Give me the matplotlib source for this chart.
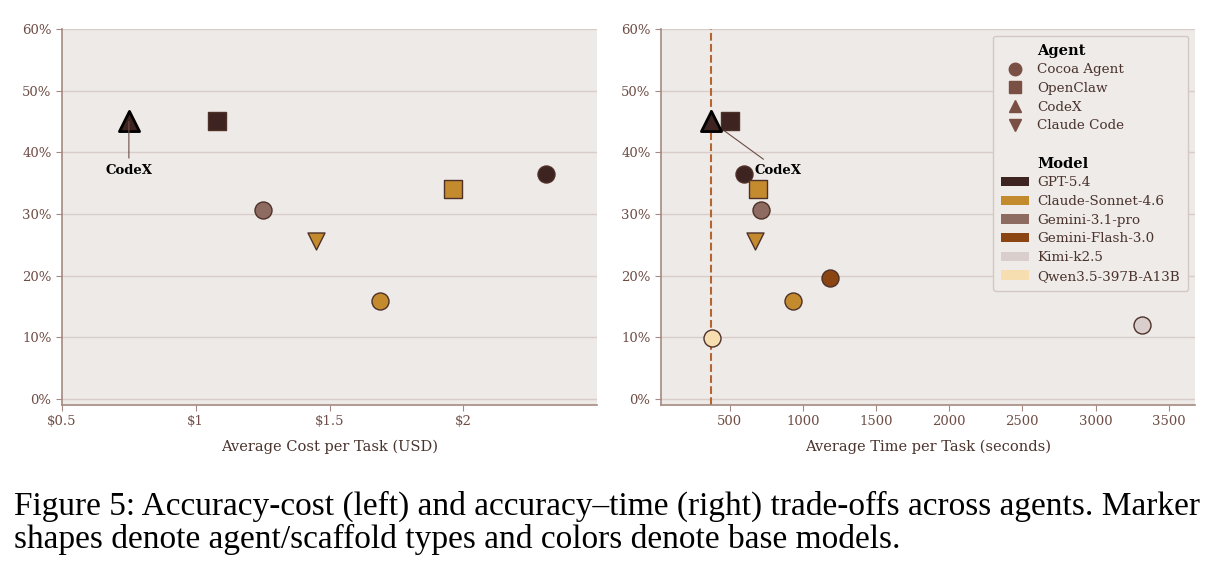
import numpy as np
import matplotlib
matplotlib.use("Agg")
import matplotlib.pyplot as plt
from matplotlib.lines import Line2D
from matplotlib.patches import Patch

# data
agents = ['CodeX', 'OpenClaw', 'Cocoa Agent', 'OpenClaw', 'Cocoa Agent', 'Claude Code',
          'Cocoa Agent', 'Cocoa Agent', 'Cocoa Agent', 'Cocoa Agent']
models = ['GPT-5.4', 'GPT-5.4', 'GPT-5.4', 'Claude-Sonnet-4.6', 'Gemini-3.1-pro', 'Claude-Sonnet-4.6',
          'Claude-Sonnet-4.6', 'Gemini-Flash-3.0', 'Kimi-k2.5', 'Qwen3.5-397B-A13B']
accuracy = [45.0, 45.1, 36.5, 34.0, 30.7, 25.6, 15.8, 19.6, 11.9, 9.9]
cost = [0.75, 1.08, 2.31, 1.96, 1.25, 1.45, 1.69, None, None, None]
time_s = [375, 500, 597, 692, 712, 670, 935, 1187, 3319, 382]
codex_time = 375

agent_names = ['Cocoa Agent', 'OpenClaw', 'CodeX', 'Claude Code']
agent_markers = {'Cocoa Agent': 'o', 'OpenClaw': 's', 'CodeX': '^', 'Claude Code': 'v'}
model_names = ['GPT-5.4', 'Claude-Sonnet-4.6', 'Gemini-3.1-pro', 'Gemini-Flash-3.0',
               'Kimi-k2.5', 'Qwen3.5-397B-A13B']
model_colors = {'GPT-5.4': '#3d2420', 'Claude-Sonnet-4.6': '#c48a2e', 'Gemini-3.1-pro': '#8d6b60',
                'Gemini-Flash-3.0': '#8b4513', 'Kimi-k2.5': '#d9cecb', 'Qwen3.5-397B-A13B': '#f6deb0'}

bg = '#eeeae7'
spine_c = '#a48a82'
tick_c = '#6e4d45'
label_c = '#4a332d'
edge_c = '#4e3129'

plt.rcParams['font.family'] = 'DejaVu Serif'
plt.rcParams['font.size'] = 9.5

fig = plt.figure(figsize=(12.19, 5.70), dpi=100)
ax1 = fig.add_axes([62 / 1219, 1 - 405 / 570, 535 / 1219, 376 / 570])
ax2 = fig.add_axes([661 / 1219, 1 - 405 / 570, 534 / 1219, 376 / 570])


def style(ax):
    ax.set_facecolor(bg)
    for s in ['top', 'right']:
        ax.spines[s].set_visible(False)
    for s in ['left', 'bottom']:
        ax.spines[s].set_color(spine_c)
        ax.spines[s].set_linewidth(1.2)
    ax.grid(axis='y', color='#d8cdc9', lw=1)
    ax.set_axisbelow(True)
    ax.tick_params(colors=spine_c, labelcolor=tick_c, labelsize=9.5, length=4)
    ax.set_ylim(-1, 60)
    ax.set_yticks([0, 10, 20, 30, 40, 50, 60])
    ax.set_yticklabels(['0%', '10%', '20%', '30%', '40%', '50%', '60%'])


def draw(ax, xs):
    for a, m, y, x in zip(agents, models, accuracy, xs):
        if x is None:
            continue
        if a == 'CodeX':
            ax.scatter(x, y, marker='^', s=210, c=model_colors[m], edgecolors='black',
                       linewidths=2, zorder=4)
        else:
            ax.scatter(x, y, marker=agent_markers[a], s=150, c=model_colors[m],
                       edgecolors=edge_c, linewidths=1, zorder=3)


style(ax1)
draw(ax1, cost)
ax1.set_xlim(0.5, 2.5)
ax1.set_xticks([0.5, 1, 1.5, 2])
ax1.set_xticklabels(['$0.5', '$1', '$1.5', '$2'])
ax1.set_xlabel('Average Cost per Task (USD)', color=label_c, fontsize=10.5, labelpad=8)
ax1.annotate('CodeX', xy=(cost[0], accuracy[0]), xytext=(cost[0], 37.1), ha='center', va='center',
             fontweight='bold', fontsize=9.5, color='black', zorder=5,
             arrowprops=dict(arrowstyle='-', color='#6e4d45', lw=0.8, shrinkB=0))

style(ax2)
ax2.axvline(codex_time, color='#b5652f', ls='--', lw=1.5, zorder=2)
draw(ax2, time_s)
ax2.set_xlim(30, 3680)
ax2.set_xticks([500, 1000, 1500, 2000, 2500, 3000, 3500])
ax2.set_xlabel('Average Time per Task (seconds)', color=label_c, fontsize=10.5, labelpad=8)
ax2.annotate('CodeX', xy=(time_s[0], accuracy[0]), xytext=(672, 37.1), ha='left', va='center',
             fontweight='bold', fontsize=9.5, color='black', zorder=2,
             arrowprops=dict(arrowstyle='-', color='#6e4d45', lw=0.8, shrinkB=0))

# legend with two sections
blank = Patch(facecolor='none', edgecolor='none')
handles = [blank]
labels = ['Agent']
for a in agent_names:
    handles.append(Line2D([], [], marker=agent_markers[a], ls='none', color='#7a5045', markersize=9))
    labels.append(a)
handles += [blank, blank]
labels += ['', 'Model']
for m in model_names:
    handles.append(Patch(facecolor=model_colors[m], edgecolor='none'))
    labels.append(m)
leg = ax2.legend(handles, labels, loc='upper right', fontsize=9.7, labelspacing=0.42,
                 handlelength=2.1, handletextpad=0.6, borderpad=0.6,
                 facecolor='#efebe8', edgecolor='#d3c8c4', framealpha=1, fancybox=True)
for t in leg.get_texts():
    t.set_color(label_c)
    if t.get_text() in ('Agent', 'Model'):
        t.set_fontweight('bold')
        t.set_color('black')
        t.set_fontsize(10.5)

caption1 = 'Figure 5: Accuracy-cost (left) and accuracy\u2013time (right) trade-offs across agents. Marker'
caption2 = 'shapes denote agent/scaffold types and colors denote base models.'
fig.text(14 / 1219, 1 - 515 / 570, caption1, family='Liberation Serif', fontsize=24, color='black')
fig.text(14 / 1219, 1 - 548 / 570, caption2, family='Liberation Serif', fontsize=24, color='black')

fig.savefig('out.png', dpi=100, facecolor='white')
